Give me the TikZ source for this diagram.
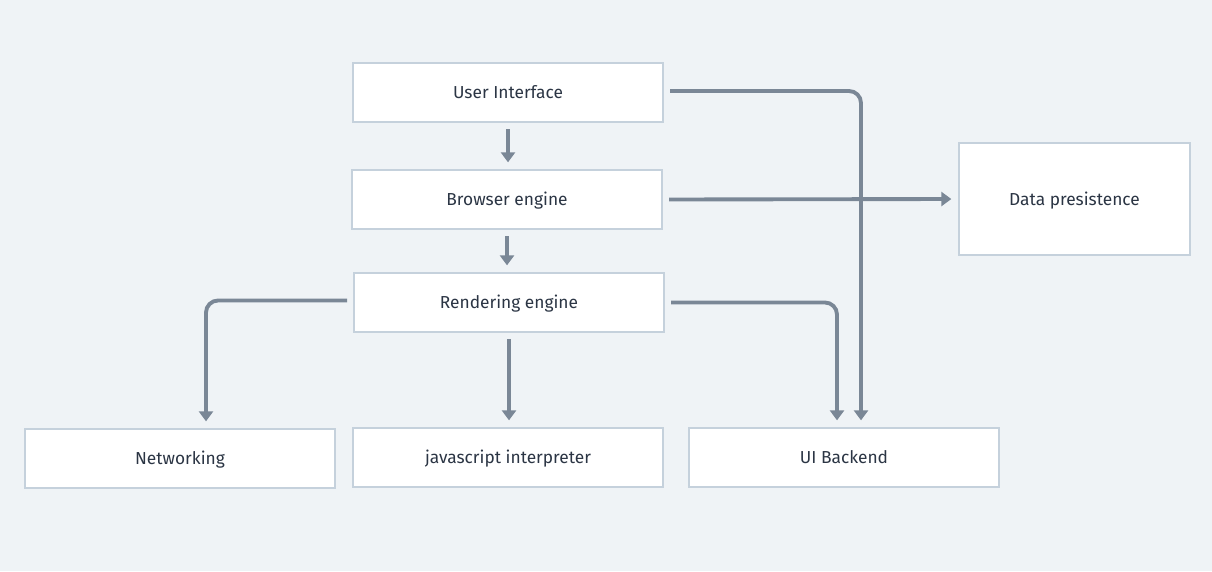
\documentclass[tikz,border=0pt]{standalone}
\usepackage{fontspec}
\setmainfont{Fira Sans}
\usetikzlibrary{arrows.meta,calc}
\definecolor{bg}{HTML}{EFF3F6}
\definecolor{bd}{HTML}{C5D1DC}
\definecolor{ln}{HTML}{7A8796}
\definecolor{tx}{HTML}{2B3544}
\tikzset{
  box/.style={draw=bd,line width=1.5pt,fill=white,minimum width=232.5pt,minimum height=44.25pt,inner sep=0pt,text=tx,text height=0.92em,text depth=0pt,font=\fontsize{13}{15}\selectfont},
  conn/.style={draw=ln,line width=2.9pt,rounded corners=9pt,-{Triangle[length=7.5pt,width=10.5pt]},shorten <=4.5pt,shorten >=5pt},
}
\begin{document}
\begin{tikzpicture}[x=0.75pt,y=-0.75pt]
\fill[bg] (0,0) rectangle (1212,571);
\useasboundingbox (0,0) rectangle (1212,571);
\node[box] (ui) at (508,92.5) {User Interface};
\node[box] (be) at (507,199.5) {Browser engine};
\node[box] (re) at (509,302.5) {Rendering engine};
\node[box] (net) at (180,458.5) {Networking};
\node[box] (js) at (508,457.5) {javascript interpreter};
\node[box] (uib) at (844,457.5) {UI Backend};
\node[box,minimum width=173.25pt,minimum height=84pt] (dp) at (1074.5,199) {Data presistence};
\draw[conn] (ui.south) -- (ui.south |- be.north);
\draw[conn] (be.south) -- (be.south |- re.north);
\draw[conn] (re.south) -- (re.south |- js.north);
\draw[conn] (be.east) -- (dp.west);
\draw[conn] ($(re.west)+(0,-2)$) -| ($(net.north)+(26,0)$);
\draw[conn] (re.east) -| ($(uib.north)+(-7,0)$);
\draw[conn] ($(ui.east)+(0,-1.5)$) -| ($(uib.north)+(17,0)$);
\end{tikzpicture}
\end{document}
